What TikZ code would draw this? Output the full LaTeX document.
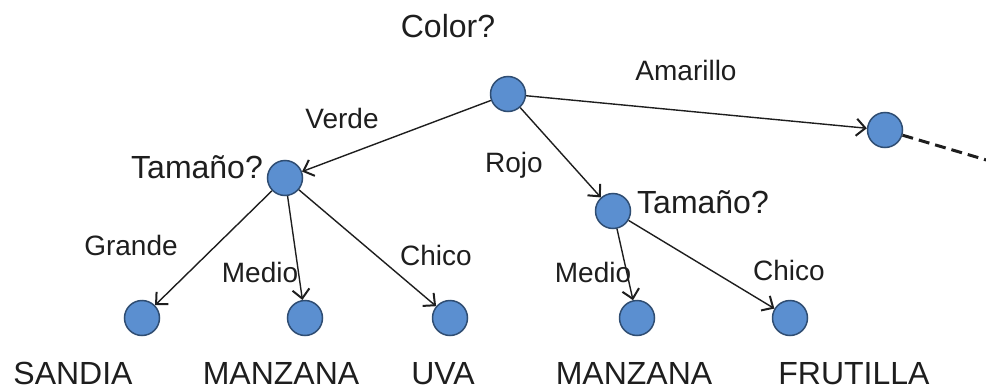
\documentclass[tikz,border=0pt]{standalone}
\usepackage{fontspec}
\setmainfont{Liberation Sans}
\usetikzlibrary{arrows.meta}
\definecolor{nodefill}{HTML}{5B8FD0}
\definecolor{nodeline}{HTML}{2F4D72}
\definecolor{ink}{HTML}{1E1E1E}
\begin{document}
\begin{tikzpicture}[x=1pt,y=-1pt,
  dot/.style={circle, draw=nodeline, fill=nodefill, line width=1.5pt, minimum size=35pt, inner sep=0pt},
  biglabel/.style={anchor=base, inner sep=0pt, text=ink, font=\fontsize{32}{36}\selectfont},
  edgelabel/.style={anchor=base, inner sep=0pt, text=ink, font=\fontsize{28}{32}\selectfont},
  branch/.style={draw=ink, line width=1.4pt, -{Straight Barb[length=9pt,width=17pt,line width=2pt]}},
  cont/.style={draw=ink, line width=3pt, dash pattern=on 11pt off 6pt}
]
\useasboundingbox (0,0) rectangle (986,391);

% tree nodes
\node[dot] (root) at (508,94) {};
\node[dot] (yel)  at (885,130) {};
\node[dot] (szA)  at (285,178) {};
\node[dot] (szB)  at (613,211) {};
\node[dot] (l1)   at (142,318) {};
\node[dot] (l2)   at (305,318) {};
\node[dot] (l3)   at (450,318) {};
\node[dot] (l4)   at (637,318) {};
\node[dot] (l5)   at (790,318) {};
\coordinate (far) at (1010,167);

% branches
\draw[branch] (root) -- (yel);
\draw[branch] (root) -- (szA);
\draw[branch] (root) -- (szB);
\draw[branch] (szA) -- (l1);
\draw[branch] (szA) -- (l2);
\draw[branch] (szA) -- (l3);
\draw[branch] (szB) -- (l4);
\draw[branch] (szB) -- (l5);
\draw[cont] (yel) -- (far);

% questions
\node[biglabel] (qc) at (448,37) {Color?};
\node[biglabel] (qa) at (197,178) {Tamaño?};
\node[biglabel] (qb) at (703,213) {Tamaño?};

% branch values
\node[edgelabel] (ea) at (686,80) {Amarillo};
\node[edgelabel] (ev) at (342,128) {Verde};
\node[edgelabel] (er) at (514,172) {Rojo};
\node[edgelabel] (eg) at (131,255) {Grande};
\node[edgelabel] (em1) at (260,282) {Medio};
\node[edgelabel] (ec1) at (436,265) {Chico};
\node[edgelabel] (em2) at (593,282) {Medio};
\node[edgelabel] (ec2) at (789,280) {Chico};

% fruits
\node[biglabel] (f1) at (73,384) {SANDIA};
\node[biglabel] (f2) at (281,384) {MANZANA};
\node[biglabel] (f3) at (443,384) {UVA};
\node[biglabel] (f4) at (634,384) {MANZANA};
\node[biglabel] (f5) at (854,384) {FRUTILLA};
\end{tikzpicture}
\end{document}
